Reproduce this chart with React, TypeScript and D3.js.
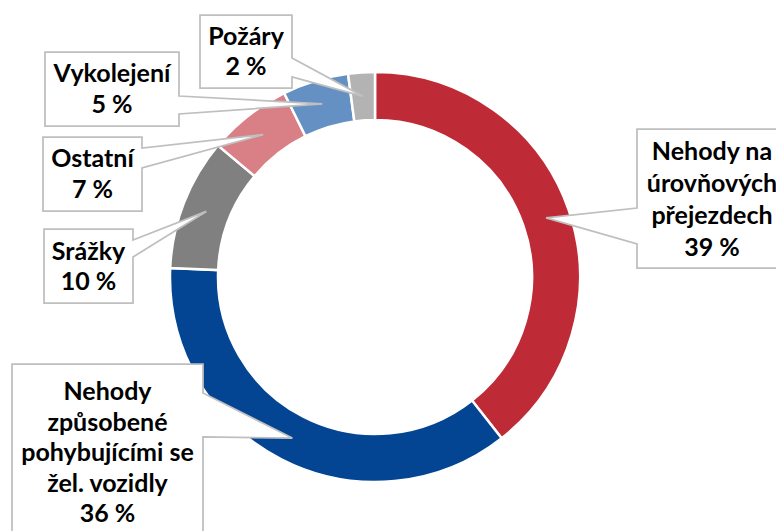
import React from "react";
import * as d3 from "d3";

// data (share of accidents, %)
const categories = [
  "Nehody na úrovňových přejezdech",
  "Nehody způsobené pohybujícími se žel. vozidly",
  "Srážky",
  "Ostatní",
  "Vykolejení",
  "Požáry",
];
const shares = [39.4, 36.3, 10.4, 6.6, 5.2, 2.1];
const labelLines = [
  ["Nehody na", "úrovňových", "přejezdech"],
  ["Nehody", "způsobené", "pohybujícími se", "žel. vozidly"],
  ["Srážky"],
  ["Ostatní"],
  ["Vykolejení"],
  ["Požáry"],
];
const colors = ["#BE2A36", "#034592", "#808080", "#D98087", "#6590C3", "#B3B3B3"];

// callout boxes (layout only)
const callouts = [
  { x: 637, y: 129, w: 150, h: 139, side: "left", b: [208, 244], base: 160, lh: 32 },
  { x: 12, y: 364, w: 191, h: 200, side: "right", b: [393, 437], base: 400, lh: 30.5 },
  { x: 44, y: 229, w: 89, h: 74, side: "right", b: [240, 257], base: 260, lh: 30 },
  { x: 43, y: 137, w: 99, h: 74, side: "right", b: [148, 168], base: 167, lh: 31 },
  { x: 45, y: 52, w: 134, h: 74, side: "right", b: [96, 114], base: 82, lh: 31 },
  { x: 200, y: 15, w: 92, h: 73, side: "right", b: [58, 77], base: 45, lh: 30 },
];

const W = 776;
const H = 531;
const cx = 375;
const cy = 277;
const rOuter = 205;
const rInner = 157;

function calloutPath(c: any, tip: [number, number]) {
  const r = c.x + c.w;
  const btm = c.y + c.h;
  if (c.side === "left") {
    return `M${c.x},${c.y}H${r}V${btm}H${c.x}V${c.b[1]}L${tip[0]},${tip[1]}L${c.x},${c.b[0]}Z`;
  }
  return `M${c.x},${c.y}H${r}V${c.b[0]}L${tip[0]},${tip[1]}L${r},${c.b[1]}V${btm}H${c.x}Z`;
}

export default function App() {
  const pie = d3
    .pie<number>()
    .sort(null)
    .value((d) => d)
    .startAngle(0)
    .endAngle(2 * Math.PI);
  const arcs = pie(shares);
  const arc = d3.arc<d3.PieArcDatum<number>>().innerRadius(rInner).outerRadius(rOuter);

  return (
    <svg
      width={W}
      height={H}
      style={{ position: "absolute", left: 0, top: 0, background: "#fff" }}
      fontFamily="Lato, 'Noto Sans', sans-serif"
    >
      <g transform={`translate(${cx},${cy})`}>
        {arcs.map((a, i) => (
          <path key={categories[i]} d={arc(a) || ""} fill={colors[i]} stroke="#fff" strokeWidth={2.5} />
        ))}
      </g>
      {arcs.map((a, i) => {
        const c = callouts[i];
        const [px, py] = arc.centroid(a);
        const tip: [number, number] = [cx + px, cy + py];
        const lines = [...labelLines[i], `${Math.round(shares[i])} %`];
        const tx = c.x + c.w / 2;
        return (
          <g key={"lbl" + i}>
            <path d={calloutPath(c, tip)} fill="#fff" stroke="#BFBFBF" strokeWidth={1.75} />
            <text textAnchor="middle" fontWeight="bold" fontSize={25} fill="#000">
              {lines.map((t, j) => (
                <tspan key={j} x={tx} y={c.base + j * c.lh}>
                  {t}
                </tspan>
              ))}
            </text>
          </g>
        );
      })}
    </svg>
  );
}
